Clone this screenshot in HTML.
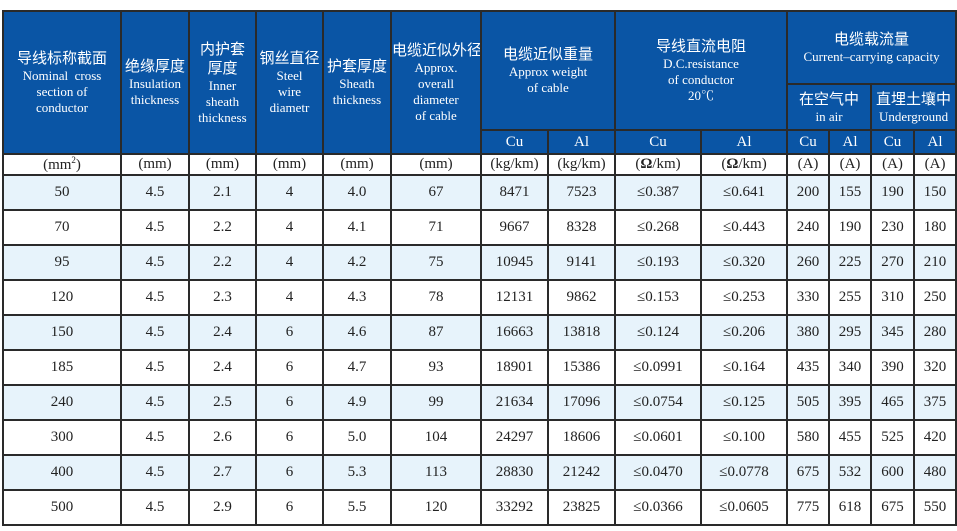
<!DOCTYPE html>
<html><head><meta charset="utf-8"><style>
html,body{margin:0;padding:0;background:#fff;width:957px;height:531px;overflow:hidden}
table{position:absolute;left:2px;top:10px;border-collapse:collapse;table-layout:fixed;width:953px;font-family:"Liberation Serif","Noto Serif CJK SC",serif;}
td{border:2px solid #2a2a2a;text-align:center;vertical-align:middle;padding:0;color:#222;font-size:15px;overflow:hidden;white-space:nowrap}
.h{background:#0a55a5;color:#fff;font-size:13px;line-height:16px}
.h b{font-family:"Liberation Sans","Noto Sans CJK SC",sans-serif;font-weight:normal;font-size:15px;display:block;line-height:19px}
.u td{height:19px;font-size:15px}
.d td{height:33px}
.d.l td{background:#e7f3fb}
</style></head><body>
<table>
<colgroup><col style="width:118px"><col style="width:68px"><col style="width:67px"><col style="width:67px"><col style="width:68px"><col style="width:90px"><col style="width:67px"><col style="width:67px"><col style="width:86px"><col style="width:86px"><col style="width:42px"><col style="width:42px"><col style="width:43px"><col style="width:42px"></colgroup>
<tr style="height:73px">
<td class="h" rowspan="3"><b>导线标称截面</b>Nominal&nbsp; cross<br>section of<br>conductor</td>
<td class="h" rowspan="3"><b>绝缘厚度</b>Insulation<br>thickness</td>
<td class="h" rowspan="3"><b>内护套<br>厚度</b>Inner<br>sheath<br>thickness</td>
<td class="h" rowspan="3"><b>钢丝直径</b>Steel<br>wire<br>diametr</td>
<td class="h" rowspan="3"><b>护套厚度</b>Sheath<br>thickness</td>
<td class="h" rowspan="3"><b>电缆近似外径</b>Approx.<br>overall<br>diameter<br>of cable</td>
<td class="h" colspan="2" rowspan="2"><b>电缆近似重量</b>Approx weight<br>of cable</td>
<td class="h" colspan="2" rowspan="2"><b>导线直流电阻</b>D.C.resistance<br>of conductor<br>20℃</td>
<td class="h" colspan="4"><b>电缆载流量</b>Current–carrying capacity</td>
</tr>
<tr style="height:46px">
<td class="h" colspan="2"><b>在空气中</b>in air</td>
<td class="h" colspan="2"><b>直埋土壤中</b>Underground</td>
</tr>
<tr style="height:24px">
<td class="h" style="font-size:15px">Cu</td><td class="h" style="font-size:15px">Al</td><td class="h" style="font-size:15px">Cu</td><td class="h" style="font-size:15px">Al</td><td class="h" style="font-size:15px">Cu</td><td class="h" style="font-size:15px">Al</td><td class="h" style="font-size:15px">Cu</td><td class="h" style="font-size:15px">Al</td>
</tr>
<tr class="u"><td>(mm<sup style="font-size:9px">2</sup>)</td><td>(mm)</td><td>(mm)</td><td>(mm)</td><td>(mm)</td><td>(mm)</td><td>(kg/km)</td><td>(kg/km)</td><td>(<b>Ω</b>/km)</td><td>(<b>Ω</b>/km)</td><td>(A)</td><td>(A)</td><td>(A)</td><td>(A)</td></tr>
<tr class="d l"><td>50</td><td>4.5</td><td>2.1</td><td>4</td><td>4.0</td><td>67</td><td>8471</td><td>7523</td><td>≤0.387</td><td>≤0.641</td><td>200</td><td>155</td><td>190</td><td>150</td></tr>
<tr class="d"><td>70</td><td>4.5</td><td>2.2</td><td>4</td><td>4.1</td><td>71</td><td>9667</td><td>8328</td><td>≤0.268</td><td>≤0.443</td><td>240</td><td>190</td><td>230</td><td>180</td></tr>
<tr class="d l"><td>95</td><td>4.5</td><td>2.2</td><td>4</td><td>4.2</td><td>75</td><td>10945</td><td>9141</td><td>≤0.193</td><td>≤0.320</td><td>260</td><td>225</td><td>270</td><td>210</td></tr>
<tr class="d"><td>120</td><td>4.5</td><td>2.3</td><td>4</td><td>4.3</td><td>78</td><td>12131</td><td>9862</td><td>≤0.153</td><td>≤0.253</td><td>330</td><td>255</td><td>310</td><td>250</td></tr>
<tr class="d l"><td>150</td><td>4.5</td><td>2.4</td><td>6</td><td>4.6</td><td>87</td><td>16663</td><td>13818</td><td>≤0.124</td><td>≤0.206</td><td>380</td><td>295</td><td>345</td><td>280</td></tr>
<tr class="d"><td>185</td><td>4.5</td><td>2.4</td><td>6</td><td>4.7</td><td>93</td><td>18901</td><td>15386</td><td>≤0.0991</td><td>≤0.164</td><td>435</td><td>340</td><td>390</td><td>320</td></tr>
<tr class="d l"><td>240</td><td>4.5</td><td>2.5</td><td>6</td><td>4.9</td><td>99</td><td>21634</td><td>17096</td><td>≤0.0754</td><td>≤0.125</td><td>505</td><td>395</td><td>465</td><td>375</td></tr>
<tr class="d"><td>300</td><td>4.5</td><td>2.6</td><td>6</td><td>5.0</td><td>104</td><td>24297</td><td>18606</td><td>≤0.0601</td><td>≤0.100</td><td>580</td><td>455</td><td>525</td><td>420</td></tr>
<tr class="d l"><td>400</td><td>4.5</td><td>2.7</td><td>6</td><td>5.3</td><td>113</td><td>28830</td><td>21242</td><td>≤0.0470</td><td>≤0.0778</td><td>675</td><td>532</td><td>600</td><td>480</td></tr>
<tr class="d"><td>500</td><td>4.5</td><td>2.9</td><td>6</td><td>5.5</td><td>120</td><td>33292</td><td>23825</td><td>≤0.0366</td><td>≤0.0605</td><td>775</td><td>618</td><td>675</td><td>550</td></tr>
</table>
</body></html>
